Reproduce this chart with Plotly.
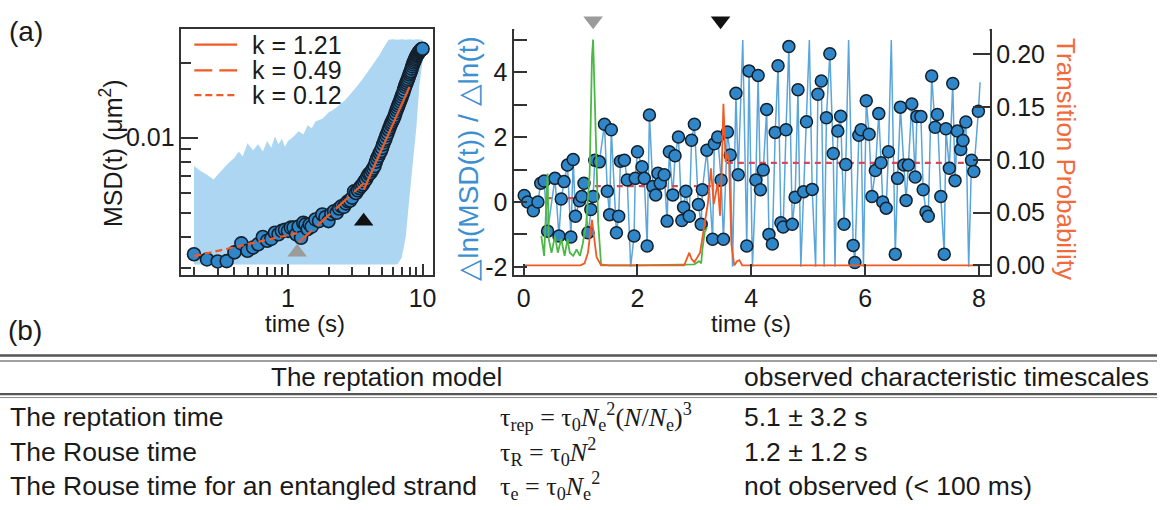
import plotly.graph_objects as go

W, H = 1161, 510

# ---------------- (a) left: MSD versus lag time ----------------
lag_t = [0.2, 0.25, 0.3, 0.35, 0.4, 0.45, 0.5, 0.55, 0.6, 0.65, 0.7, 0.75, 0.8, 0.85,
         0.9, 0.95, 1.0, 1.05, 1.1, 1.15, 1.2, 1.25, 1.3, 1.35, 1.4, 1.45, 1.5, 1.6,
         1.7, 1.8, 1.9, 2.0, 2.1, 2.2, 2.3, 2.4, 2.5, 2.6, 2.7, 2.8, 2.9, 3.0, 3.1,
         3.2, 3.3, 3.4, 3.5, 3.6, 3.7, 3.8, 3.9, 4.0, 4.1, 4.2, 4.3, 4.4, 4.5, 4.6,
         4.7, 4.8, 4.9, 5.0, 5.1, 5.2, 5.3, 5.4, 5.5, 5.6, 5.7, 5.8, 5.9, 6.0, 6.1,
         6.2, 6.3, 6.4, 6.5, 6.6, 6.7, 6.8, 6.9, 7.0, 7.1, 7.2, 7.3, 7.4, 7.5, 7.6,
         7.7, 7.8, 7.9, 8.0, 8.1, 8.2, 8.3, 8.4, 8.5, 8.6, 8.7, 8.8, 8.9, 9.0, 9.1,
         9.2, 9.3, 9.4, 9.5, 9.6, 9.7, 9.8, 9.9, 10.0]
msd = [0.00341, 0.00325, 0.00319, 0.00320, 0.00347, 0.00377, 0.00352, 0.00363, 0.00374,
       0.00400, 0.00386, 0.00393, 0.00416, 0.00410, 0.00423, 0.00427, 0.00423, 0.00436,
       0.00436, 0.00410, 0.00440, 0.00397, 0.00456, 0.00449, 0.00430, 0.00449, 0.00440,
       0.00470, 0.00463, 0.00492, 0.00480, 0.00463, 0.00495, 0.00507, 0.00500, 0.00520,
       0.00531, 0.00528, 0.00545, 0.00556, 0.00560, 0.00575, 0.00609, 0.00600, 0.00615,
       0.00628, 0.00640, 0.00650, 0.00667, 0.00680, 0.00700, 0.00715, 0.00722, 0.00738,
       0.00752, 0.00770, 0.00800, 0.00825, 0.00845, 0.00868, 0.00885, 0.00910, 0.00940,
       0.00968, 0.00990, 0.01020, 0.01045, 0.01075, 0.01100, 0.01128, 0.01150, 0.01172,
       0.01195, 0.01222, 0.01255, 0.01288, 0.01315, 0.01343, 0.01370, 0.01400, 0.01430,
       0.01460, 0.01490, 0.01520, 0.01560, 0.01600, 0.01630, 0.01660, 0.01690, 0.01720,
       0.01755, 0.01790, 0.01820, 0.01850, 0.01890, 0.01930, 0.01965, 0.02000, 0.02030,
       0.02060, 0.02090, 0.02120, 0.02140, 0.02160, 0.02180, 0.02200, 0.02215, 0.02230,
       0.02245, 0.02258, 0.02265, 0.02270]

band_t = [0.2, 0.22, 0.25, 0.28, 0.3, 0.33, 0.36, 0.4, 0.43, 0.46, 0.5, 0.55, 0.6, 0.65,
          0.7, 0.75, 0.8, 0.85, 0.9, 0.95, 1.0, 1.1, 1.2, 1.3, 1.4, 1.5, 1.6, 1.8, 2.0,
          2.2, 2.4, 2.6, 2.8, 3.0, 3.3, 3.6, 4.0, 4.4, 4.8, 5.2, 5.6, 6.0, 6.5, 7.0,
          7.5, 8.0, 8.5, 9.0, 9.5, 10.0]
band_hi = [0.0077, 0.0074, 0.0071, 0.0068, 0.0071, 0.0075, 0.0079, 0.0083, 0.0088, 0.0084,
           0.0095, 0.0089, 0.0094, 0.0088, 0.0097, 0.0091, 0.0101, 0.0094, 0.0099, 0.0092,
           0.0097, 0.0101, 0.0106, 0.0103, 0.0112, 0.0109, 0.0116, 0.0119, 0.0126, 0.0130,
           0.0135, 0.0140, 0.0146, 0.0152, 0.0162, 0.0172, 0.0186, 0.0200, 0.0215, 0.0232,
           0.0247, 0.0248, 0.0247, 0.0248, 0.0247, 0.0248, 0.0247, 0.0248, 0.0247, 0.0247]
band_lo = [0.0031] * 43 + [0.0033, 0.0040, 0.0058, 0.0078, 0.0110, 0.0165, 0.0200]

# power-law fits MSD ~ t^k over three regimes
fit_k = [1.21, 0.49, 0.12]
fit_t0 = [3.66, 1.2, 0.2]
fit_t1 = [8.0, 3.66, 1.2]
fit_m0 = [0.0062, 0.0038, 0.00335]
fit_dash = ["solid", "18px,7px", "7px,4px"]

# transition markers on the MSD curve
tri_t = [1.17, 3.65]
tri_msd = [0.00347, 0.00462]
tri_color = ["#9b9b9b", "#111111"]

# ---------------- (a) right: local slope and transition probability ----------------
slope_t = [0.01, 0.07, 0.17, 0.25, 0.30, 0.36, 0.42, 0.55, 0.62, 0.66, 0.71, 0.77, 0.83,
           0.87, 0.91, 0.98, 1.02, 1.06, 1.13, 1.18, 1.22, 1.25, 1.33, 1.42, 1.47, 1.51,
           1.54, 1.63, 1.67, 1.70, 1.77, 1.82, 1.94, 1.96, 2.00, 2.08, 2.12, 2.17, 2.21,
           2.27, 2.32, 2.36, 2.40, 2.47, 2.52, 2.56, 2.62, 2.66, 2.72, 2.78, 2.81, 2.85,
           2.91, 2.95, 3.00, 3.07, 3.12, 3.14, 3.22, 3.32, 3.35, 3.41, 3.47, 3.51, 3.58,
           3.63, 3.73, 3.77, 3.92, 3.96, 4.08, 4.12, 4.16, 4.21, 4.27, 4.31, 4.37, 4.42,
           4.47, 4.52, 4.56, 4.61, 4.66, 4.72, 4.77, 4.82, 4.92, 4.97, 5.07, 5.17, 5.23,
           5.32, 5.38, 5.44, 5.52, 5.57, 5.63, 5.66, 5.79, 5.82, 5.89, 5.93, 6.02, 6.07,
           6.12, 6.18, 6.24, 6.28, 6.31, 6.37, 6.41, 6.53, 6.57, 6.62, 6.68, 6.72, 6.76,
           6.82, 6.88, 6.91, 6.98, 7.02, 7.07, 7.11, 7.17, 7.23, 7.27, 7.33, 7.39, 7.42,
           7.48, 7.54, 7.58, 7.62, 7.68, 7.72, 7.77, 7.87, 7.91, 7.99]
slope_v = [0.20, 0.00, -0.27, 0.00, 0.58, 0.65, -0.90, 0.73, -1.05, 0.09, 0.63, 1.14, -1.08,
           1.31, -0.44, 0.04, 0.17, 0.58, -0.95, -0.23, 0.17, 1.29, 1.24, 2.40, 0.33, -0.39,
           2.23, -0.95, -0.44, 1.26, 1.29, 0.68, -1.05, 0.73, 1.55, 1.09, 0.73, -1.36, 2.69,
           0.48, 0.22, 0.89, 0.58, 0.84, -0.59, 1.55, 0.22, 1.43, 2.01, -0.57, -0.16, 0.33,
           -0.44, 1.91, 2.40, -0.08, -0.69, 0.38, 1.60, -1.15, 1.80, 2.01, 0.68, -1.15, 2.16,
           1.45, 3.36, 0.84, -1.36, 4.05, 0.68, 3.91, 0.38, 0.99, 2.86, -1.00, -1.30, 2.15,
           4.21, -0.64, -0.77, 2.23, 4.80, -0.69, 0.15, 3.47, 0.32, 2.48, 0.39, 3.33, 3.74,
           2.60, 4.58, 1.50, 2.19, 2.65, -0.69, 1.16, -1.34, -1.87, 2.06, 2.23, 3.13, 2.09,
           0.17, 0.97, 2.73, 1.21, 0.00, -0.19, 1.55, -1.61, 0.73, 2.93, 1.14, 0.05, 1.14,
           3.03, 0.77, 2.64, 2.64, 0.38, -0.31, -0.44, 3.89, 2.31, 2.70, 0.17, -1.61, 2.26,
           1.04, 3.66, 0.66, 2.19, 1.62, 1.90, 2.47, 1.29, 0.94, 2.80]
# frames whose slope runs off the plotted range (shown by the line only)
spike_t = [1.88, 3.67, 3.85, 4.02, 4.87, 5.02, 5.13, 5.28, 5.47, 5.71, 5.97, 6.46, 7.82, 8.02]
spike_v = [-2.0, -2.0, 5.0, -2.0, -2.0, 5.0, -2.0, -2.0, -2.0, 5.0, -2.0, 5.0, -2.0, 3.7]

# mean slope of each regime and where the regime changes
regime_k = [0.12, 0.49, 1.21]
regime_start = [0.0, 1.25, 3.57]
regime_end = [1.12, 3.52, 8.0]

green_t = [0.31, 0.36, 0.42, 0.44, 0.49, 0.55, 0.60, 0.66, 0.72, 0.77, 0.81, 0.87, 0.93,
           0.99, 1.04, 1.10, 1.16, 1.20, 1.22, 1.26, 1.31, 1.36, 1.5, 2.0, 2.5, 3.0, 3.08,
           3.12, 3.14, 3.18, 3.22]
green_p = [0.028, 0.009, 0.087, 0.025, 0.012, 0.028, 0.012, 0.025, 0.009, 0.025, 0.012,
           0.009, 0.015, 0.009, 0.021, 0.040, 0.087, 0.197, 0.214, 0.134, 0.040, 0.001,
           0.0, 0.0, 0.0005, 0.001, 0.004, 0.002, 0.015, 0.031, 0.036]

orange_t = [0.0, 1.0, 1.07, 1.13, 1.18, 1.2, 1.23, 1.28, 1.36, 2.82, 2.88, 2.91, 2.95, 3.0,
            3.1, 3.17, 3.24, 3.29, 3.34, 3.41, 3.45, 3.48, 3.51, 3.55, 3.58, 3.61, 3.65,
            3.70, 3.75, 3.79, 3.84, 8.0]
orange_p = [0.0, 0.0, 0.002, 0.012, 0.035, 0.043, 0.030, 0.008, 0.0, 0.0, 0.008, 0.012,
            0.006, 0.003, 0.012, 0.035, 0.060, 0.092, 0.058, 0.078, 0.047, 0.090, 0.153,
            0.098, 0.106, 0.097, 0.020, 0.0, 0.004, 0.005, 0.0, 0.0]

# transition times marked above the panel
mark_t = [1.22, 3.46]
mark_color = ["#9b9b9b", "#111111"]

# ---------------- styling ----------------
FONT = "Liberation Sans, Arial, sans-serif"
SERIF = "Liberation Serif, Times New Roman, serif"
ORANGE = "#f05a24"
BLUE_FILL = "#2f86c8"
EDGE = "#14202c"
AXIS = "#333333"


def px_x(px):
    return px / W


def px_y(py):
    return 1 - py / H


fig = go.Figure()

# spread band as one closed polygon (upper edge out, lower edge back)
fig.add_trace(go.Scatter(x=band_t + band_t[::-1], y=band_hi + band_lo[::-1], mode="lines",
                         line=dict(width=0), fill="toself", fillcolor="#acd6f1",
                         hoverinfo="skip", showlegend=False, xaxis="x", yaxis="y"))
# MSD points
fig.add_trace(go.Scatter(x=lag_t, y=msd, mode="markers",
                         marker=dict(size=13, color=BLUE_FILL, line=dict(color=EDGE, width=1.6)),
                         showlegend=False, xaxis="x", yaxis="y"))
# fits
for k, t0, t1, m0, dash in zip(fit_k, fit_t0, fit_t1, fit_m0, fit_dash):
    fig.add_trace(go.Scatter(x=[t0, t1], y=[m0, m0 * (t1 / t0) ** k], mode="lines",
                             line=dict(color=ORANGE, width=2.2, dash=dash),
                             name=f"k = {k:.2f}", showlegend=False, xaxis="x", yaxis="y"))
# transition triangles
fig.add_trace(go.Scatter(x=tri_t, y=tri_msd, mode="markers",
                         marker=dict(symbol="triangle-up", size=17, color=tri_color, line=dict(width=0)),
                         showlegend=False, xaxis="x", yaxis="y"))

# right panel: slope line through every frame
line_pts = sorted(zip(slope_t + spike_t, slope_v + spike_v))
fig.add_trace(go.Scatter(x=[p[0] for p in line_pts], y=[p[1] for p in line_pts], mode="lines",
                         line=dict(color="#5aa5da", width=1.5), showlegend=False,
                         xaxis="x2", yaxis="y2"))
# regime means
rx, ry = [], []
for k, a, b in zip(regime_k, regime_start, regime_end):
    rx += [a, b, None]
    ry += [k, k, None]
fig.add_trace(go.Scatter(x=rx, y=ry, mode="lines", connectgaps=False,
                         line=dict(color="#d8465c", width=2.2, dash="6px,5px"),
                         showlegend=False, xaxis="x2", yaxis="y2"))
fig.add_trace(go.Scatter(x=slope_t, y=slope_v, mode="markers",
                         marker=dict(size=12, color=BLUE_FILL, line=dict(color=EDGE, width=1.5)),
                         showlegend=False, xaxis="x2", yaxis="y2"))
# transition probabilities
fig.add_trace(go.Scatter(x=green_t, y=green_p, mode="lines", line=dict(color="#4db848", width=1.8),
                         showlegend=False, xaxis="x2", yaxis="y3"))
fig.add_trace(go.Scatter(x=orange_t, y=orange_p, mode="lines", line=dict(color=ORANGE, width=1.8),
                         showlegend=False, xaxis="x2", yaxis="y3"))
# transition times in a strip above the right panel
fig.add_trace(go.Scatter(x=mark_t, y=[0.5] * len(mark_t), mode="markers",
                         marker=dict(symbol="triangle-down", size=17, color=mark_color, line=dict(width=0)),
                         showlegend=False, xaxis="x2", yaxis="y4"))

tickfont = dict(family=FONT, size=25, color="#1a1a1a")
frame = dict(showline=True, linecolor=AXIS, linewidth=1.5, showgrid=False, zeroline=False,
             tickfont=tickfont, tickcolor=AXIS, tickwidth=1.5)

fig.update_layout(
    width=W, height=H, autosize=False,
    margin=dict(l=0, r=0, t=0, b=0),
    paper_bgcolor="white", plot_bgcolor="white",
    font=dict(family=FONT, size=25, color="#1a1a1a"),
    xaxis=dict(frame, type="log", domain=[px_x(182), px_x(434)], range=[-0.7926, 1.0741],
               anchor="y", mirror=True, ticks="inside", ticklen=12,
               tickmode="array", tickvals=[1, 10], ticktext=["1", "10"],
               minor=dict(ticks="inside", ticklen=9, tickcolor=AXIS, tickwidth=1.5,
                          tickvals=[0.2, 0.3, 0.4, 0.5, 0.6, 0.7, 0.8, 0.9,
                                    2, 3, 4, 5, 6, 7, 8, 9])),
    yaxis=dict(frame, type="log", domain=[px_y(278), px_y(29)], range=[-2.5516, -1.5635],
               anchor="x", mirror=True, ticks="inside", ticklen=17,
               tickmode="array", tickvals=[0.01], ticktext=["0.01"],
               minor=dict(ticks="inside", ticklen=10, tickcolor=AXIS, tickwidth=1.5,
                          tickvals=[0.003, 0.004, 0.005, 0.006, 0.007, 0.008, 0.009, 0.02])),
    xaxis2=dict(frame, domain=[px_x(516), px_x(993)], range=[-0.166, 8.187], anchor="y2",
                mirror=True, ticks="inside", ticklen=12, tickmode="array",
                tickvals=[0, 2, 4, 6, 8]),
    yaxis2=dict(frame, domain=[px_y(278), px_y(31)], range=[-2.263, 5.291], anchor="x2",
                mirror=True, ticks="inside", ticklen=13, tickmode="array",
                tickvals=[-2, -1, 0, 1, 2, 3, 4, 5],
                ticktext=["-2", "", "0", "", "2", "", "4", ""]),
    yaxis3=dict(frame, overlaying="y2", side="right", anchor="x2", range=[-0.00938, 0.2223],
                ticks="inside", ticklen=17, tickmode="array",
                tickvals=[0, 0.05, 0.10, 0.15, 0.20],
                ticktext=["0.00", "0.05", "0.10", "0.15", "0.20"]),
    yaxis4=dict(domain=[px_y(34), px_y(8)], range=[0, 1], anchor="x2", visible=False,
                showgrid=False, zeroline=False),
)

ann = []


def text(px, py, s, size=25, color="#1a1a1a", xanchor="center", angle=0, family=FONT):
    ann.append(dict(x=px_x(px), y=px_y(py), xref="paper", yref="paper", text=s,
                    showarrow=False, xanchor=xanchor, yanchor="middle", textangle=angle,
                    font=dict(family=family, size=size, color=color)))


text(26, 32, "(a)", size=28)
text(25, 334, "(b)", size=28)
text(112, 155, "MSD(t) (μm<sup>2</sup>)", size=25, angle=-90)
text(306, 327, "time (s)", size=24)
text(754, 327, "time (s)", size=24)
text(470, 160, "△ln(MSD(t)) / △ln(t)", size=28, color="#3d8fd1", angle=-90)
text(1069, 161, "Transition Probability", size=26, color="#f26a3a", angle=90)

# legend for the fits
shapes = []
leg_y = [45, 71, 96]
for k, dash, y in zip(fit_k, fit_dash, leg_y):
    shapes.append(dict(type="line", xref="paper", yref="paper",
                       x0=px_x(195), x1=px_x(238), y0=px_y(y), y1=px_y(y),
                       line=dict(color=ORANGE, width=2.2, dash=dash)))
    text(251, y, f"k = {k:.2f}", size=25, xanchor="left")

# table (b)
for y, wdt, col in [(359, 2.5, "#555555"), (364.5, 1.5, "#808080"),
                    (398, 2.2, "#555555"), (401.5, 1.0, "#8a8a8a")]:
    shapes.append(dict(type="line", xref="paper", yref="paper", x0=0, x1=1,
                       y0=px_y(y), y1=px_y(y), line=dict(color=col, width=wdt)))

row_y = [421, 456, 491]
row_name = ["The reptation time", "The Rouse time", "The Rouse time for an entangled strand"]
row_formula = ["τ<sub>rep</sub> = τ<sub>0</sub><i>N</i><sub>e</sub><sup>2</sup>(<i>N</i>/<i>N</i><sub>e</sub>)<sup>3</sup>",
               "τ<sub>R</sub> = τ<sub>0</sub><i>N</i><sup>2</sup>",
               "τ<sub>e</sub> = τ<sub>0</sub><i>N</i><sub>e</sub><sup>2</sup>"]
row_obs = ["5.1 ± 3.2 s", "1.2 ± 1.2 s", "not observed (< 100 ms)"]

text(388, 381, "The reptation model", size=26)
text(745, 381, "observed characteristic timescales", size=26.5, xanchor="left")
for y, nm, fm, ob in zip(row_y, row_name, row_formula, row_obs):
    text(8, y, nm, size=26.5, xanchor="left")
    text(500, y, fm, size=26, xanchor="left", family=SERIF)
    text(745, y, ob, size=26.5, xanchor="left")

fig.update_layout(annotations=ann, shapes=shapes)
fig.write_html("out.html", config={"displayModeBar": False})
